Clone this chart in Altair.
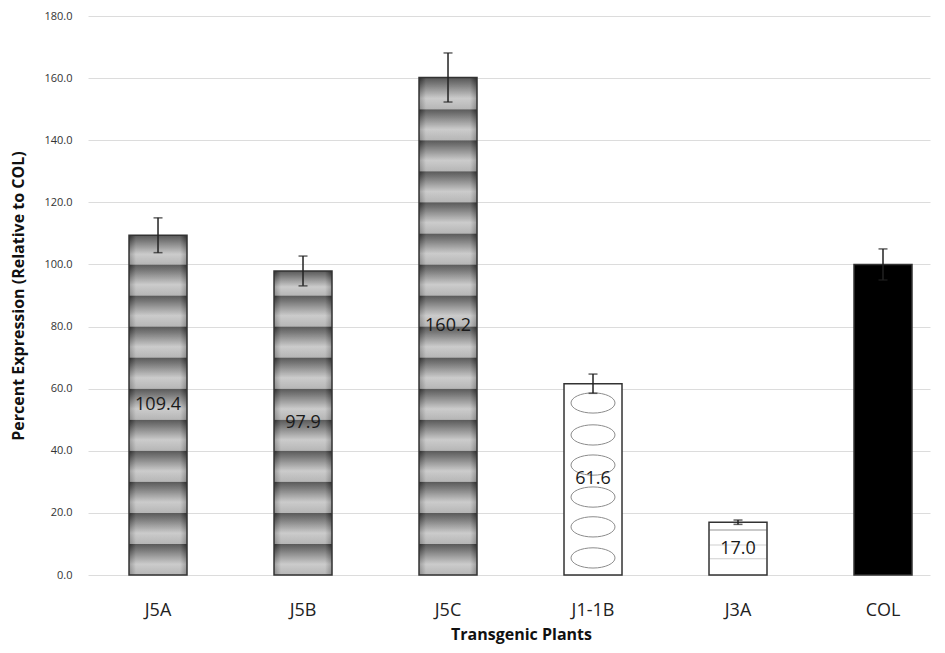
import altair as alt
import pandas as pd

# ---- data ----
plants = ["J5A", "J5B", "J5C", "J1-1B", "J3A", "COL"]
values = [109.4, 97.9, 160.2, 61.6, 17.0, 100.0]
errors = [5.6, 4.8, 7.9, 3.1, 0.7, 5.0]
striped = ["J5A", "J5B", "J5C"]
stripe_step = 10
ellipse_centers = [5.5, 15.5, 25.1, 35.4, 45.1, 55.4]
j3a_lines = [5.2, 9.7, 14.5]
y_ticks = [0, 20, 40, 60, 80, 100, 120, 140, 160, 180]

df = pd.DataFrame({"plant": plants, "value": values, "err": errors})
df["lo"] = df["value"] - df["err"]
df["hi"] = df["value"] + df["err"]

seg_rows = []
for p, v in zip(plants, values):
    if p in striped:
        k = 0
        while k * stripe_step < v:
            seg_rows.append({"plant": p, "s0": k * stripe_step,
                             "s1": min((k + 1) * stripe_step, v)})
            k += 1
seg = pd.DataFrame(seg_rows)
ell = pd.DataFrame({"plant": ["J1-1B"] * len(ellipse_centers), "yc": ellipse_centers})
lines = pd.DataFrame({"plant": ["J3A"] * len(j3a_lines), "yl": j3a_lines,
                      "dark": [False, False, True]})

FONT = "Open Sans"
W, H = 842, 559

xscale = alt.Scale(domain=plants, paddingInner=0.6, paddingOuter=0.2035, align=0.695)
xaxis = alt.Axis(title="Transgenic Plants", labelAngle=0, labelFontSize=18, labelPadding=26,
                 labelColor="#222", labelFont=FONT, ticks=False, domain=False, grid=False,
                 titleFontSize=16, titleFontWeight="bold", titleFont=FONT, titleColor="#111",
                 titleX=433, titleY=64, titleBaseline="alphabetic")
X = alt.X("plant:N", scale=xscale, axis=xaxis)

yscale = alt.Scale(domain=[0, 180], nice=False)
yaxis = alt.Axis(title="Percent Expression (Relative to COL)", values=y_ticks, format=".1f",
                 grid=True, gridColor="#dcdcdc", gridWidth=1, domain=False, ticks=False,
                 labelPadding=16, labelFontSize=11, labelColor="#333", labelFont=FONT,
                 titleFontSize=16, titleFontWeight="bold", titleFont=FONT, titleColor="#111",
                 titleX=-70, titleY=H / 2, titleBaseline="middle")


def Y(field):
    return alt.Y(f"{field}:Q", scale=yscale, axis=yaxis)


fill_scale = alt.Scale(domain=plants,
                       range=["#9a9a9a", "#9a9a9a", "#9a9a9a", "#ffffff", "#ffffff", "#000000"])

base = alt.Chart(df).mark_bar(strokeWidth=0).encode(
    x=X, y=Y("value"),
    color=alt.Color("plant:N", scale=fill_scale, legend=None),
)

grad = alt.LinearGradient(
    gradient="linear", x1=0, x2=0, y1=0, y2=1,
    stops=[alt.GradientStop(color="#353535", offset=0),
           alt.GradientStop(color="#595959", offset=0.18),
           alt.GradientStop(color="#c0c0c0", offset=0.65),
           alt.GradientStop(color="#a6a6a6", offset=1)])

stripes = alt.Chart(seg).mark_rect(fill=grad, strokeWidth=0).encode(
    x=X, y=Y("s0"), y2="s1:Q")

side = alt.LinearGradient(
    gradient="linear", x1=0, x2=1, y1=0, y2=0,
    stops=[alt.GradientStop(color="#000000", offset=0),
           alt.GradientStop(color="#ffffff", offset=0.12),
           alt.GradientStop(color="#ffffff", offset=0.88),
           alt.GradientStop(color="#000000", offset=1)])
shade = alt.Chart(df).transform_filter(
    alt.FieldOneOfPredicate(field="plant", oneOf=striped)
).mark_bar(fill=side, opacity=0.18).encode(x=X, y=Y("value"))

ellipse_path = "M -1 0 A 1 0.46 0 1 1 1 0 A 1 0.46 0 1 1 -1 0 Z"
ellipses = alt.Chart(ell).mark_point(shape=ellipse_path, size=1936, filled=False,
                                     stroke="#8c8c8c", strokeWidth=1, opacity=1).encode(
    x=X, y=Y("yc"))

j3a = alt.Chart(lines).mark_tick(size=57, thickness=1).encode(
    x=X, y=Y("yl"),
    color=alt.condition("datum.dark", alt.value("#666"), alt.value("#bbbbbb")))

outline = alt.Chart(df).mark_bar(fillOpacity=0, stroke="#333", strokeWidth=1.5).encode(
    x=X, y=Y("value"))

err_rule = alt.Chart(df).mark_rule(color="#222", strokeWidth=1.5).encode(
    x=X, y=Y("lo"), y2="hi:Q")
err_lo = alt.Chart(df).mark_tick(color="#222", size=9, thickness=1.5).encode(x=X, y=Y("lo"))
err_hi = alt.Chart(df).mark_tick(color="#222", size=9, thickness=1.5).encode(x=X, y=Y("hi"))

labels = alt.Chart(df).transform_filter("datum.plant != 'COL'").transform_calculate(
    mid="datum.value / 2"
).mark_text(font=FONT, fontSize=18, color="#1a1a1a", baseline="middle").encode(
    x=X, y=Y("mid"), text=alt.Text("value:Q", format=".1f"))

chart = alt.layer(base, stripes, shade, ellipses, j3a, outline, err_rule, err_lo, err_hi,
                  labels).properties(
    width=W, height=H,
    autosize=alt.AutoSizeParams(type="none"),
    padding={"left": 80, "top": 8, "right": 5, "bottom": 70},
    background="white",
).configure_view(stroke=None)

chart.save("out.html", embed_options={"renderer": "svg", "actions": False})
